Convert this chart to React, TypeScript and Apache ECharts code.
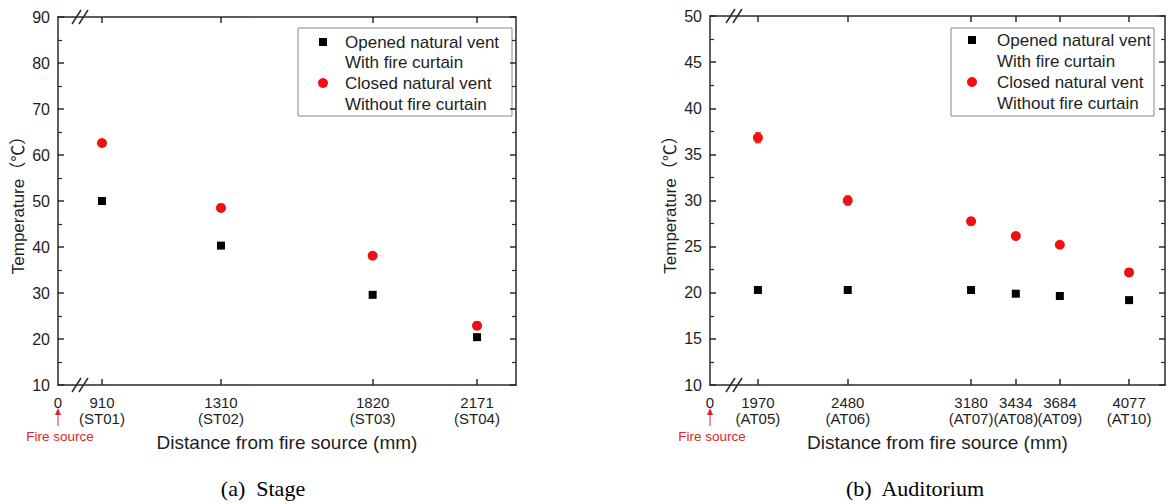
import React, { useEffect, useRef } from "react";
import * as echarts from "echarts";

// ---- data ----
const stageDist = [910, 1310, 1820, 2171];
const stageIds = ["ST01", "ST02", "ST03", "ST04"];
const stageOpen = [50.0, 40.3, 29.6, 20.4];
const stageClosed = [62.6, 48.5, 38.1, 22.9];

const audDist = [1970, 2480, 3180, 3434, 3684, 4077];
const audIds = ["AT05", "AT06", "AT07", "AT08", "AT09", "AT10"];
const audOpen = [20.3, 20.3, 20.3, 19.9, 19.65, 19.2];
const audClosed = [36.8, 30.0, 27.75, 26.15, 25.2, 22.2];
const audClosedErr = [0.55, 0.5, 0.4, 0.3, 0.3, 0.3];

const legendNames = [
  ["Opened natural vent", "With fire curtain"],
  ["Closed natural vent", "Without fire curtain"],
];
const captions = ["(a)  Stage", "(b)  Auditorium"];
const yTitle = "Temperature（℃）";
const xTitle = "Distance from fire source (mm)";
const fireLabel = "Fire source";

// broken axis ranges (axis start is shown as "0")
const stageRange = [762, 2302];
const audRange = [1698, 4281];
const stageY = [10, 90, 10];
const audY = [10, 50, 5];

const FONT = "'Liberation Sans', Arial, 'Noto Sans CJK SC', sans-serif";
const AX = "#2a2a2a";
const TXT = "#1e1e1e";
const RED = "#f01010";
const FIRE = "#e0262a";

function xAxes(gridIndex: number, range: number[], dist: number[], ids: string[]) {
  const fmt = (v: number) => {
    const i = dist.indexOf(v);
    return i < 0 ? "0" : `${v}\n(${ids[i]})`;
  };
  const common = {
    type: "value",
    gridIndex,
    min: range[0],
    max: range[1],
    splitLine: { show: false },
    axisLine: { show: true, lineStyle: { color: AX, width: 1.5 } },
  };
  return [
    {
      ...common,
      position: "bottom",
      axisTick: { show: true, inside: true, length: 6, customValues: dist, lineStyle: { color: AX, width: 1.5 } },
      axisLabel: {
        show: true,
        customValues: [range[0], ...dist],
        formatter: fmt,
        margin: 9,
        color: TXT,
        fontFamily: FONT,
        fontSize: 15,
        lineHeight: 16,
        showMinLabel: true,
        showMaxLabel: true,
      },
      name: xTitle,
      nameLocation: "middle",
      nameGap: 48,
      nameTextStyle: { color: TXT, fontFamily: FONT, fontSize: 19 },
    },
    {
      ...common,
      position: "top",
      axisTick: { show: true, inside: true, length: 6, customValues: dist, lineStyle: { color: AX, width: 1.5 } },
      axisLabel: { show: false },
    },
  ];
}

function yAxes(gridIndex: number, r: number[], gap: number) {
  const common = {
    type: "value",
    gridIndex,
    min: r[0],
    max: r[1],
    interval: r[2],
    splitLine: { show: false },
    axisLine: { show: true, lineStyle: { color: AX, width: 1.5 } },
    axisTick: { show: true, inside: true, length: 6, lineStyle: { color: AX, width: 1.5 } },
    minorTick: { show: true, splitNumber: 2, length: 4, lineStyle: { color: AX, width: 1.2 } },
  };
  return [
    {
      ...common,
      position: "left",
      axisLabel: { show: true, margin: 8, color: TXT, fontFamily: FONT, fontSize: 16 },
      name: yTitle,
      nameLocation: "middle",
      nameGap: gap,
      nameTextStyle: { color: TXT, fontFamily: FONT, fontSize: 17 },
    },
    { ...common, position: "right", axisLabel: { show: false } },
  ];
}

function legend(bx: number, by: number, bw: number, bh: number, mx: number, tx: number, ys: number[]) {
  const els: any[] = [
    { type: "rect", shape: { x: bx, y: by, width: bw, height: bh }, style: { fill: "#fff", stroke: "#8a8a8a", lineWidth: 1 } },
    { type: "rect", shape: { x: mx - 4, y: ys[0] - 4, width: 8, height: 8 }, style: { fill: "#000" } },
    { type: "circle", shape: { cx: mx, cy: ys[2], r: 5 }, style: { fill: RED } },
  ];
  const lines = [...legendNames[0], ...legendNames[1]];
  lines.forEach((t, i) => {
    els.push({
      type: "text",
      x: tx,
      y: ys[i],
      style: { text: t, fill: TXT, font: `17px ${FONT}`, textVerticalAlign: "middle", textAlign: "left" },
    });
  });
  return els;
}

function breaks(x: number, y: number) {
  return [0, 7].map((d) => ({
    type: "line",
    shape: { x1: x + d, y1: y + 7, x2: x + d + 9, y2: y - 7 },
    style: { stroke: AX, lineWidth: 1.5 },
  }));
}

function fire(x: number) {
  return [
    { type: "line", shape: { x1: x, y1: 426, x2: x, y2: 413 }, style: { stroke: FIRE, lineWidth: 1 } },
    { type: "polygon", shape: { points: [[x - 3, 415], [x + 3, 415], [x, 408]] }, style: { fill: FIRE } },
    {
      type: "text",
      x: x + 2,
      y: 436,
      style: { text: fireLabel, fill: FIRE, font: `13.5px ${FONT}`, textAlign: "center", textVerticalAlign: "middle" },
    },
  ];
}

export default function App() {
  const ref = useRef<HTMLDivElement>(null);
  useEffect(() => {
    document.body.style.margin = "0";
    const chart = echarts.init(ref.current!, undefined, { renderer: "svg" });
    const zip = (xs: number[], ys: number[]) => xs.map((x, i) => [x, ys[i]]);
    const black = { color: "#000", opacity: 1 };
    const red = { color: RED, opacity: 1 };
    const option: any = {
      animation: false,
      backgroundColor: "#fff",
      grid: [
        { left: 58, top: 17, width: 458, height: 368 },
        { left: 710, top: 16, width: 455, height: 369 },
      ],
      xAxis: [...xAxes(0, stageRange, stageDist, stageIds), ...xAxes(1, audRange, audDist, audIds)],
      yAxis: [...yAxes(0, stageY, 31), ...yAxes(1, audY, 31)],
      series: [
        { type: "scatter", name: legendNames[0].join(" "), xAxisIndex: 0, yAxisIndex: 0, symbol: "rect", symbolSize: 8, itemStyle: black, data: zip(stageDist, stageOpen) },
        { type: "scatter", name: legendNames[1].join(" "), xAxisIndex: 0, yAxisIndex: 0, symbol: "circle", symbolSize: 10, itemStyle: red, data: zip(stageDist, stageClosed) },
        {
          type: "custom",
          xAxisIndex: 2,
          yAxisIndex: 2,
          data: audDist.map((x, i) => [x, audClosed[i], audClosedErr[i]]),
          renderItem: (params: any, api: any) => {
            const x = api.value(0), y = api.value(1), e = api.value(2);
            const lo = api.coord([x, y - e]);
            const hi = api.coord([x, y + e]);
            const s = { stroke: RED, lineWidth: 1 };
            return {
              type: "group",
              children: [
                { type: "line", shape: { x1: lo[0], y1: lo[1], x2: hi[0], y2: hi[1] }, style: s },
                { type: "line", shape: { x1: lo[0] - 3, y1: lo[1], x2: lo[0] + 3, y2: lo[1] }, style: s },
                { type: "line", shape: { x1: hi[0] - 3, y1: hi[1], x2: hi[0] + 3, y2: hi[1] }, style: s },
              ],
            };
          },
          z: 1,
        },
        { type: "scatter", name: legendNames[0].join(" "), xAxisIndex: 2, yAxisIndex: 2, symbol: "rect", symbolSize: 8, itemStyle: black, data: zip(audDist, audOpen) },
        { type: "scatter", name: legendNames[1].join(" "), xAxisIndex: 2, yAxisIndex: 2, symbol: "circle", symbolSize: 10, itemStyle: red, data: zip(audDist, audClosed), z: 3 },
      ],
      graphic: [
        ...legend(298, 28, 214, 88, 323, 345, [42, 62, 83, 104]),
        ...legend(951, 28, 203, 88, 972, 997, [40, 61, 82, 103]),
        ...breaks(72, 17),
        ...breaks(72, 385),
        ...breaks(726, 16),
        ...breaks(726, 385),
        ...fire(58),
        ...fire(710),
        { type: "text", x: 263, y: 488, style: { text: captions[0], fill: "#000", font: `22px 'Liberation Serif', 'Times New Roman', serif`, textAlign: "center", textVerticalAlign: "middle" } },
        { type: "text", x: 915, y: 488, style: { text: captions[1], fill: "#000", font: `22px 'Liberation Serif', 'Times New Roman', serif`, textAlign: "center", textVerticalAlign: "middle" } },
      ],
    };
    chart.setOption(option);
    return () => chart.dispose();
  }, []);
  return <div ref={ref} style={{ width: 1168, height: 504, position: "absolute", left: 0, top: 0 }} />;
}
